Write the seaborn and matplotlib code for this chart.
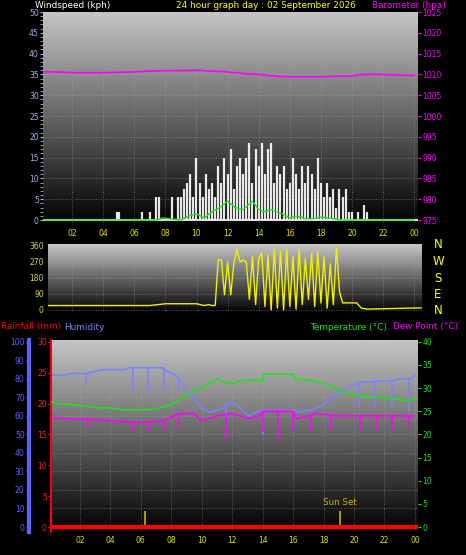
import numpy as np
import pandas as pd
import matplotlib
matplotlib.use("Agg")
import matplotlib.pyplot as plt
import seaborn as sns

sns.set_style("dark")
plt.rcParams["font.family"] = ["DejaVu Sans"]

# ---- data (hours of day) ----
baro_t = [0, 1, 2, 3, 4, 5, 6, 7, 8, 9, 10, 11, 12, 13, 14, 15, 16, 17, 18, 19, 20, 20.5, 21, 22, 23, 24]
baro_v = [1010.6, 1010.6, 1010.4, 1010.4, 1010.4, 1010.5, 1010.6, 1010.8, 1010.9, 1010.9, 1011.0, 1010.8,
          1010.6, 1010.2, 1010.0, 1009.6, 1009.4, 1009.4, 1009.4, 1009.6, 1009.6, 1009.9, 1010.0, 1010.0, 1009.8, 1009.8]

gust_t = [4.9, 5.0, 6.5, 7.0] + list(np.round(np.arange(7.4, 21.3, 0.2), 1))
gust_v = [2, 2, 2, 2,
          5.5, 5.5, 0, 0, 0, 5.5, 0, 5.5, 5.5, 7.5, 9, 11, 5.5, 15, 9, 5.5, 11, 7.5, 9, 5.5,
          13, 9, 15, 11, 17, 7.5, 13, 15, 11, 15, 18.5, 9, 17, 13, 18.5, 11, 17, 18.5, 9, 13,
          11, 13, 7.5, 9, 15, 11, 7.5, 13, 9, 13, 11, 7.5, 15, 9, 5.5, 9, 5.5, 7.5, 3, 7.5,
          5.5, 7.5, 2, 2, 0, 2, 0, 3.5, 2, 0]
avg_t = [0, 7.5, 7.8, 9.0, 9.5, 10.0, 10.5, 11.0, 11.5, 12.0, 12.5, 13.0, 13.6, 14.0, 14.4, 14.8,
         15.5, 16.0, 16.5, 17.0, 17.5, 18.0, 18.5, 19.3, 24]
avg_v = [0, 0, 0.5, 0, 1, 1.5, 0.5, 2, 3, 4.5, 3, 2.5, 4.5, 2.5, 2, 2.5, 1.5, 0.5, 1, 0.3, 0.3, 0.7, 0.5, 0, 0]

dir_t = [0, 7, 7.5, 8, 10, 10.5, 10.8, 11, 11.2,
         11.4, 11.6, 11.8, 12.0, 12.2, 12.4, 12.6, 12.8, 13.0, 13.2, 13.4, 13.6, 13.8, 14.0, 14.2,
         14.4, 14.6, 14.8, 15.0, 15.2, 15.4, 15.6, 15.8, 16.0, 16.2, 16.4, 16.6, 16.8, 17.0, 17.2,
         17.4, 17.6, 17.8, 18.0, 18.2, 18.4, 18.6, 18.8, 19.0, 19.2, 19.4, 20.3, 20.6, 21, 24.5]
dir_v = [25, 25, 30, 35, 35, 25, 30, 25, 25,
         285, 280, 85, 270, 85, 260, 340, 270, 280, 270, 60, 300, 30, 290, 320,
         20, 310, 0, 340, 10, 330, 0, 340, 20, 300, 5, 340, 30, 290, 60,
         320, 20, 330, 40, 300, 10, 260, 30, 350, 100, 40, 40, 10, 5, 12]

hum_t = [0, 1, 1.5, 2.5, 3, 3.5, 5, 5.2, 7.5, 7.7, 8.3, 8.7, 9, 9.5, 10, 10.5, 11, 11.4, 11.6, 12, 12.3,
         12.8, 13.1, 13.5, 14, 15, 16, 16.3, 17, 17.5, 18, 18.5, 19, 20, 20.5, 21.5, 22.5, 23, 23.8, 24]
hum_v = [82, 82, 83, 83, 84, 85, 85, 86, 86, 84, 82, 78, 74, 70, 64, 62, 63, 64, 67, 67, 66,
         62, 60, 62, 63, 63, 63, 62, 63, 64, 66, 70, 73, 77, 78, 79, 79, 80, 80, 82]
hum_dip_t = [2.4, 5.5, 6.5, 7.5, 8.5, 11.6, 14.0, 18.3, 20.3, 21.4, 22.5, 23.6]
hum_dip_v = [77, 73, 73, 73, 73, 61, 50, 68, 65, 65, 65, 62]

temp_t = [0, 1, 2, 3, 4, 5, 6, 7, 8, 8.5, 9, 9.5, 10, 10.5, 11, 11.5, 12, 12.5, 13, 13.5, 14, 14.05,
          16, 16.1, 17, 17.5, 18, 18.5, 19, 20, 21, 22, 23, 23.8, 24]
temp_v = [27, 26.5, 26.3, 25.8, 25.7, 25.3, 25.3, 25.5, 26.5, 27.5, 28.5, 29.5, 30, 31, 32, 31.2, 31,
          31.5, 31.8, 31.8, 31.5, 33, 33, 32, 31.8, 31.5, 31, 30.5, 29.5, 28.5, 28.2, 28, 27.5, 27.3, 28]

dew_t = [0, 3, 6, 7.5, 8.5, 9.5, 10, 11, 12, 13, 13.8, 14, 16, 16.2, 17, 17.5, 19, 24]
dew_v = [23.5, 23.2, 22.5, 23, 24.5, 24.5, 23, 24, 24.5, 23.5, 24, 25, 25, 23.5, 24, 24.5, 24, 24]
dew_dip_t = [2.5, 5.5, 6.5, 7.5, 8.5, 11.6, 14.0, 15.0, 16.0, 17.2, 18.5, 20.4, 21.5, 22.5, 23.6]
dew_dip_v = [21.5, 20.5, 20.5, 21, 21.5, 19, 20.5, 18.5, 21, 20.5, 21, 21, 21, 21, 21.5]

sun_t = [6.3, 19.1]
hour_ticks = [2, 4, 6, 8, 10, 12, 14, 16, 18, 20, 22, 24]
hour_labels = ["02", "04", "06", "08", "10", "12", "14", "16", "18", "20", "22", "00"]

W, H = 466, 555
fig = plt.figure(figsize=(W / 100, H / 100), dpi=100, facecolor="black")


def rect(l, t, r, b):
    return [l / W, 1 - b / H, (r - l) / W, (b - t) / H]


grad = np.linspace(0.78, 0.0, 200).reshape(-1, 1)


def setup(ax, xlim, ylim):
    ax.set_xlim(*xlim)
    ax.set_ylim(*ylim)
    ax.imshow(grad, cmap="gray", vmin=0, vmax=1, aspect="auto", zorder=0,
              extent=[xlim[0], xlim[1], ylim[0], ylim[1]])
    ax.set_xticks(hour_ticks)
    ax.grid(True, color="#b0b0b0", linestyle=(0, (1, 2)), linewidth=0.6, alpha=0.6)
    ax.set_axisbelow(False)
    for s in ax.spines.values():
        s.set_visible(False)
    ax.tick_params(labelsize=5.5, length=2, pad=1)
    ax.set_xlabel("")
    ax.set_ylabel("")


fs = 6.4

# ---- top: wind & barometer ----
ax1 = fig.add_axes(rect(43, 12, 418, 225))
setup(ax1, (0.13, 24.25), (-1.2, 50.0))
ax1.vlines(gust_t, 0, gust_v, color="white", linewidth=1.6, alpha=0.9, zorder=3)
sns.lineplot(x=avg_t, y=avg_v, color="#20e020", linewidth=1.0, ax=ax1, zorder=4)
ax1.axhline(0, color="#e0e0e0", linewidth=1.5, zorder=2)
ax1.set_yticks(range(0, 51, 5))
ax1.set_yticks(np.arange(0, 51, 1), minor=True)
ax1.tick_params(axis="y", colors="#9db8e8", which="both")
ax1.tick_params(axis="x", colors="#e0e000")
ax1.set_xticklabels(hour_labels)
ax1.set_xlabel(""); ax1.set_ylabel("")
ax1b = ax1.twinx()
ax1b.set_ylim(975 - 1.2, 975 + 50.0)
sns.lineplot(x=baro_t, y=baro_v, color="#ff00ff", linewidth=1.2, ax=ax1b)
ax1b.set_yticks(range(975, 1026, 5))
ax1b.tick_params(axis="y", colors="#ff00ff", labelsize=5.5, length=2, pad=1)
for s in ax1b.spines.values():
    s.set_visible(False)
ax1b.set_xlim(0.13, 24.25)
ax1b.set_ylabel("")

fig.text(35 / W, 1 - 5 / H, "Windspeed (kph)", color="white", fontsize=fs, va="center")
fig.text(266 / W, 1 - 5 / H, "24 hour graph day : 02 September 2026", color="#ffff00",
         fontsize=fs, va="center", ha="center")
fig.text(372 / W, 1 - 5 / H, "Barometer (hpa)", color="#ff00ff", fontsize=fs, va="center")

# ---- middle: wind direction ----
ax2 = fig.add_axes(rect(48, 244, 422, 313))
setup(ax2, (0.45, 24.5), (-17, 371))
sns.lineplot(x=dir_t, y=dir_v, color="#f0f000", linewidth=1.0, ax=ax2, zorder=3)
ax2.set_yticks([0, 90, 180, 270, 360])
ax2.tick_params(axis="y", colors="#d8d840")
ax2.tick_params(axis="x", labelbottom=False, length=0)
ax2.set_xlabel(""); ax2.set_ylabel("")
for i, c in enumerate("NWSEN"):
    fig.text(438 / W, 1 - (245 + i * 16.5) / H, c, color="#ffff00", fontsize=8.5, ha="center", va="center")

# ---- bottom: temperature, humidity, rain ----
ax3 = fig.add_axes(rect(51, 340, 418, 532))
setup(ax3, (0.1, 24.2), (-2.7, 101))
sns.lineplot(x=hum_t, y=hum_v, color="#8080ff", linewidth=1.2, ax=ax3, zorder=3)
ax3.vlines(hum_dip_t, hum_dip_v, np.interp(hum_dip_t, hum_t, hum_v), color="#8080ff", linewidth=1.2, zorder=3)
ax3.set_yticks(range(0, 101, 10))
ax3.spines["left"].set_visible(True)
ax3.spines["left"].set_position(("outward", 16))
ax3.spines["left"].set_color("#6060ff")
ax3.spines["left"].set_linewidth(3)
ax3.tick_params(axis="y", colors="#6060ff")
ax3.tick_params(axis="x", colors="#e0e000")
ax3.set_xticklabels(hour_labels)
ax3.set_xlabel(""); ax3.set_ylabel("")

ax3r = ax3.twinx()
ax3r.yaxis.tick_left()
ax3r.set_ylim(-2.7 * 0.3, 101 * 0.3)
ax3r.set_xlim(0.1, 24.2)
ax3r.axhline(0, color="#ff0000", linewidth=3, zorder=5)
ax3r.vlines(sun_t, 0, 2.6, color="#c8b400", linewidth=1.2)
ax3r.text(19.1, 3.2, "Sun Set", color="#c8b400", fontsize=6.3, ha="center", va="bottom")
ax3r.set_yticks(range(0, 31, 5))
for s in ax3r.spines.values():
    s.set_visible(False)
ax3r.spines["left"].set_visible(True)
ax3r.spines["left"].set_color("#ff0000")
ax3r.spines["left"].set_linewidth(1.5)
ax3r.tick_params(axis="y", colors="#ff2020", labelsize=5.5, length=2, pad=1)

ax3t = ax3.twinx()
ax3t.set_ylim(-2.7 * 0.4, 101 * 0.4)
ax3t.set_xlim(0.1, 24.2)
sns.lineplot(x=temp_t, y=temp_v, color="#20e020", linewidth=1.2, ax=ax3t)
sns.lineplot(x=dew_t, y=dew_v, color="#ff00ff", linewidth=1.2, ax=ax3t)
ax3t.vlines(dew_dip_t, dew_dip_v, np.interp(dew_dip_t, dew_t, dew_v), color="#ff00ff", linewidth=1.2)
ax3t.set_yticks(range(0, 41, 5))
for s in ax3t.spines.values():
    s.set_visible(False)
ax3t.tick_params(axis="y", colors="#20e020", labelsize=5.5, length=2, pad=1)
ax3t.set_ylabel("")

fig.text(1 / W, 1 - 327 / H, "Rainfall (mm)", color="#ff0000", fontsize=fs, va="center")
fig.text(64 / W, 1 - 327 / H, "Humidity", color="#8080ff", fontsize=fs, va="center")
fig.text(310 / W, 1 - 327 / H, "Temperature (°C)", color="#20e020", fontsize=fs, va="center")
fig.text(393 / W, 1 - 327 / H, "Dew Point (°C)", color="#ff00ff", fontsize=fs, va="center")

fig.savefig("out.png", dpi=100, facecolor="black")
